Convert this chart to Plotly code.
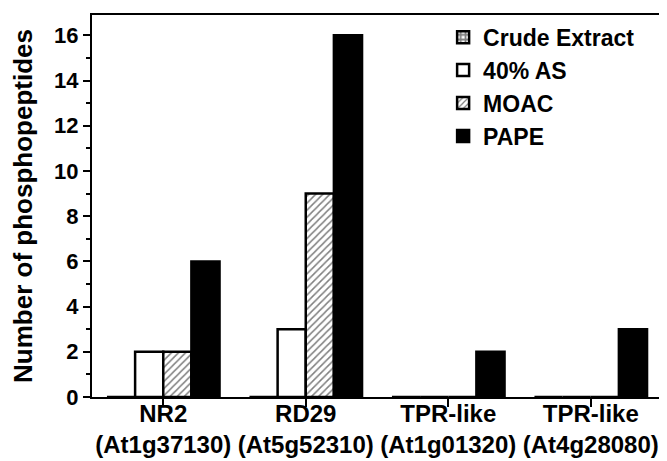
import plotly.graph_objects as go

categories = ["NR2<br>(At1g37130)", "RD29<br>(At5g52310)", "TPR-like<br>(At1g01320)", "TPR-like<br>(At4g28080)"]
series_names = ["Crude Extract", "40% AS", "MOAC", "PAPE"]
crude_extract = [0, 0, 0, 0]
as40 = [2, 3, 0, 0]
moac = [2, 9, 0, 0]
pape = [6, 16, 2, 3]
y_ticks = [0, 2, 4, 6, 8, 10, 12, 14, 16]

FONT = "Liberation Sans, Arial, sans-serif"

styles = [
    dict(color="white", pattern=dict(shape="+", fgcolor="black", bgcolor="white", size=6, solidity=0.6)),
    dict(color="white"),
    dict(color="white", pattern=dict(shape="/", fgcolor="black", bgcolor="white", size=5, solidity=0.3)),
    dict(color="black"),
]

fig = go.Figure()
for i, (name, vals) in enumerate(zip(series_names, [crude_extract, as40, moac, pape])):
    marker = dict(styles[i])
    marker["line"] = dict(color="black", width=2.5)
    fig.add_trace(go.Bar(x=categories, y=vals, name=name, marker=marker))

# page body has an 8px margin, so the figure is sized to fill the rest of the window
fig.update_layout(
    width=659, height=453,
    margin=dict(l=84, r=5, t=7, b=64),
    paper_bgcolor="white", plot_bgcolor="white",
    font=dict(family=FONT, size=22, color="black", weight="bold"),
    barmode="group", bargap=0.21, bargroupgap=0,
    legend=dict(x=0.616, y=0.998, xanchor="left", yanchor="top",
                font=dict(size=23, family=FONT, weight="bold"),
                bgcolor="rgba(0,0,0,0)"),
    xaxis=dict(showline=True, linecolor="black", linewidth=2, mirror=True,
               ticks="outside", ticklen=8, tickwidth=2, tickcolor="black",
               tickfont=dict(size=24, family=FONT, weight="bold"),
               ticklabelstandoff=-14,
               range=[-0.5, 3.5], automargin=False),
    yaxis=dict(showline=True, linecolor="black", linewidth=2, mirror=True,
               range=[0, 16.9], tickvals=y_ticks, ticks="outside", ticklen=7,
               tickwidth=2, tickcolor="black", showgrid=False, zeroline=False,
               tickfont=dict(size=22, family=FONT, weight="bold"), automargin=False,
               minor=dict(dtick=1, ticks="outside", ticklen=4, tickwidth=1.5, tickcolor="black"),
               title=dict(text="Number of phosphopeptides", font=dict(size=26, family=FONT, weight="bold"), standoff=16)),
)

fig.write_html("out.html")
